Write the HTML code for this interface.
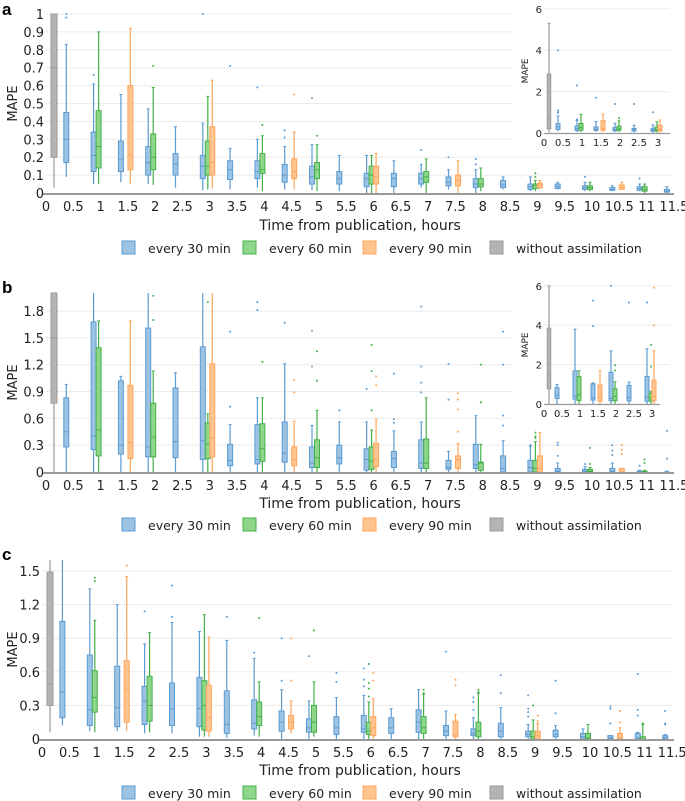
<!DOCTYPE html>
<html><head><meta charset="utf-8"><style>
body{margin:0;background:#fff;}
svg{display:block;font-family:"DejaVu Sans","Liberation Sans",sans-serif;}
</style></head><body>
<svg id="fig" width="685" height="801" viewBox="0 0 685 801" xmlns="http://www.w3.org/2000/svg"></svg>
<script>
// [t, lo, q1, med, q3, hi, outliers]
const aGray=[[0,0.03,0.2,0.7,2.85,5.3,[]]];
const a30=[[0.5,.09,.17,.30,.45,.83,[.98,1.1,1.0,4.0]],[1,.05,.12,.21,.34,.61,[.66,2.3]],[1.5,.06,.12,.19,.29,.55,[1.7]],[2,.05,.10,.17,.26,.47,[1.4]],[2.5,.03,.10,.16,.22,.37,[1.4]],[3,.015,.08,.15,.21,.39,[1.0]],[3.5,.02,.075,.13,.18,.25,[.71]],[4,.03,.08,.12,.18,.30,[.59]],[4.5,.02,.06,.10,.16,.26,[.31,.35]],[5,.015,.05,.09,.15,.27,[.53]],[5.5,.01,.05,.08,.12,.21,[]],[6,0,.035,.08,.11,.21,[]],[6.5,0,.035,.08,.11,.18,[]],[7,.03,.05,.08,.11,.16,[.24]],[7.5,.02,.04,.06,.09,.13,[.2]],[8,0,.03,.05,.08,.13,[.16,.19]],[8.5,.02,.03,.045,.07,.09,[]],[9,.01,.02,.035,.05,.09,[]],[9.5,.02,.025,.035,.05,.06,[]],[10,.01,.02,.03,.04,.06,[.09]],[10.5,.01,.015,.02,.03,.04,[]],[11,.01,.015,.025,.035,.05,[.08]],[11.5,0,.005,.01,.02,.035,[]]];
const a60=[[1,.05,.14,.26,.46,.90,[]],[2,.045,.13,.20,.33,.59,[.71]],[3,.02,.10,.15,.29,.54,[]],[4,.01,.11,.13,.22,.32,[.38]],[5,.01,.08,.13,.17,.27,[.32]],[6,0,.05,.10,.15,.21,[]],[7,0,.06,.09,.12,.19,[]],[8,.01,.035,.05,.08,.14,[]],[9,.01,.025,.04,.05,.07,[.09,.11]],[10,.01,.02,.03,.04,.06,[]],[11,0,.01,.02,.035,.05,[]]];
const a90=[[1.5,.05,.13,.21,.60,.92,[]],[3,.025,.10,.17,.37,.63,[]],[4.5,.02,.08,.12,.19,.34,[.55]],[6,0,.05,.09,.15,.22,[]],[7.5,0,.04,.07,.10,.18,[]],[9,.02,.03,.045,.055,.07,[]],[10.5,.02,.02,.03,.045,.06,[]]];

const bGray=[[0,0,0.77,1.5,3.85,6.0,[]]];
const b30=[[0.5,0,.28,.45,.83,.98,[]],[1,0,.25,.40,1.68,3.8,[]],[1.5,0,.2,.3,1.02,1.07,[3.95,5.25]],[2,0,.17,.28,1.61,2.7,[6.0]],[2.5,0,.16,.34,.94,1.11,[5.15]],[3,0,.14,.35,1.4,2.8,[5.15]],[3.5,0,.07,.13,.31,.53,[.73,1.57]],[4,0,.09,.14,.53,.83,[1.81,1.9]],[4.5,0,.11,.21,.56,1.21,[1.67]],[5,0,.05,.1,.28,.52,[1.18,1.58]],[5.5,0,.09,.16,.3,.56,[.69]],[6,0,.02,.14,.26,.56,[.93]],[6.5,0,.05,.15,.23,.46,[.55,.59,1.1]],[7,0,.04,.1,.36,.56,[.89,1.0,1.18,1.85]],[7.5,0,.03,.05,.13,.23,[.81,1.21]],[8,0,.04,.08,.31,.63,[]],[8.5,0,0,.04,.18,.35,[.52,.63,1.2,1.57]],[9,0,0,.05,.13,.29,[.3]],[9.5,0,0,.01,.04,.1,[.18,.3,.33]],[10,0,0,.01,.03,.06,[.09]],[10.5,0,0,.01,.04,.1,[.19,.24,.3]],[11,0,0,0,.01,.02,[.07]],[11.5,0,0,0,0,.01,[.15,.46]]];
const b60=[[1,0,.18,.47,1.39,1.69,[]],[2,0,.17,.39,.77,1.13,[1.7,1.97]],[3,0,.15,.31,.55,.65,[1.9,3.0]],[4,0,.12,.26,.54,.83,[1.23]],[5,0,.05,.16,.36,.69,[1.02,1.35]],[6,0,.03,.12,.28,.47,[.69,1.13,1.42]],[7,0,.04,.1,.37,.83,[]],[8,0,.02,.1,.11,.31,[.78,1.2]],[9,0,0,.04,.13,.34,[.38,.4,.44]],[10,0,0,.01,.03,.05,[.09,.27]],[11,0,0,0,.01,.02,[.1,.14]]];
const b90=[[1.5,0,.15,.33,.97,1.69,[]],[3,0,.17,.38,1.21,2.7,[4.0,5.9]],[4.5,0,.07,.14,.28,.57,[.89,1.03]],[6,0,.06,.14,.32,.59,[.97,1.07]],[7.5,0,.04,.14,.18,.32,[.45,.7,.81,.88]],[9,0,0,.04,.18,.44,[.53,.55]],[10.5,0,0,0,.04,.04,[.2,.25,.3]]];

const cGray=[[0,.06,.3,.49,1.49,1.7,[]]];
const c30=[[0.5,.12,.19,.42,1.05,1.7,[]],[1,.07,.12,.26,.75,1.34,[]],[1.5,.07,.11,.28,.65,1.2,[]],[2,.05,.13,.34,.47,.85,[1.14]],[2.5,.05,.12,.27,.5,1.04,[1.09,1.37]],[3,.02,.11,.27,.55,.96,[]],[3.5,.01,.05,.13,.43,.88,[1.09]],[4,.03,.09,.14,.35,.72,[.77]],[4.5,0,.07,.15,.25,.44,[.52,.9]],[5,0,.06,.1,.18,.34,[.74]],[5.5,0,.04,.1,.2,.37,[.51,.59]],[6,0,.06,.09,.21,.39,[.47,.53,.63]],[6.5,0,.05,.1,.19,.27,[]],[7,0,.06,.15,.26,.44,[]],[7.5,0,.03,.07,.12,.25,[.78]],[8,0,.03,.05,.09,.19,[.26,.33,.37]],[8.5,0,.02,.07,.14,.28,[.41,.57]],[9,0,.02,.04,.07,.13,[.2,.24,.27,.39]],[9.5,0,.02,.04,.08,.12,[.23,.52]],[10,0,0,.02,.05,.09,[]],[10.5,0,0,.01,.03,.03,[.14,.27,.29]],[11,0,0,.01,.05,.06,[.21,.26,.58]],[11.5,0,0,.01,.03,.04,[.13,.14,.25]]];
const c60=[[1,.06,.24,.37,.61,1.06,[1.41,1.44]],[2,.06,.16,.3,.56,.95,[]],[3,.02,.08,.3,.52,1.11,[]],[4,.02,.12,.2,.33,.51,[1.08]],[5,.02,.06,.15,.3,.51,[.97]],[6,0,.04,.07,.15,.33,[.38,.45,.5,.67]],[7,0,.05,.1,.2,.4,[.41,.44]],[8,0,.02,.07,.15,.41,[.42,.44]],[9,0,0,.02,.07,.17,[.3]],[10,0,0,.01,.05,.13,[]],[11,0,0,0,.02,.13,[.14]]];
const c90=[[1.5,.07,.15,.44,.7,1.45,[1.55]],[3,.02,.07,.19,.48,.91,[]],[4.5,.05,.09,.15,.21,.34,[.52,.9]],[6,0,.03,.1,.2,.36,[.52,.59]],[7.5,0,.02,.03,.16,.22,[.48,.53]],[9,0,0,.03,.07,.14,[.16,.21]],[10.5,0,0,.01,.05,.1,[.15,.25]]];

const xTicks=["0","0.5","1","1.5","2","2.5","3","3.5","4","4.5","5","5.5","6","6.5","7","7.5","8","8.5","9","9.5","10","10.5","11","11.5"];
const yTicksA=["0","0.1","0.2","0.3","0.4","0.5","0.6","0.7","0.8","0.9","1"];
const yTicksB=["0","0.3","0.6","0.9","1.2","1.5","1.8"];
const yTicksC=["0","0.3","0.6","0.9","1.2","1.5"];
const insetXTicks=["0","0.5","1","1.5","2","2.5","3"];
const insetYTicks=["0","2","4","6"];
const legendLabels=["every 30 min","every 60 min","every 90 min","without assimilation"];

const NS="http://www.w3.org/2000/svg";
const svg=document.getElementById('fig');
const COL={b:{f:"#9cc3e4",s:"#5b9bd1"},g:{f:"#8fd68a",s:"#44b049"},o:{f:"#ffc591",s:"#ffa65a"},k:{f:"#b4b4b4",s:"#9a9a9a"}};
function mk(tag,attrs,parent){const e=document.createElementNS(NS,tag);for(const k in attrs)e.setAttribute(k,attrs[k]);(parent||svg).appendChild(e);return e;}
function txt(x,y,s,attrs,parent){const e=mk('text',Object.assign({x:x,y:y},attrs),parent);e.textContent=s;return e;}

function drawBoxes(g,data,col,xf,yf,off,w,ymax,series){
  data.forEach(d=>{
    const cx=xf(d[0])+off;const c=COL[col];
    const grp=mk('g',{},g);
    
    
    const cl=v=>yf(Math.min(v,ymax));
    mk('line',{x1:cx,x2:cx,y1:cl(d[1]),y2:cl(d[5]),stroke:c.s,'stroke-width':1.2},grp);
    if(d[5]<=ymax){mk('line',{x1:cx-1.5,x2:cx+1.5,y1:yf(d[5]),y2:yf(d[5]),stroke:c.s,'stroke-width':1},grp);}
    mk('rect',{x:cx-w/2,y:cl(d[4]),width:w,height:Math.max(0.8,cl(d[2])-cl(d[4])),fill:c.f,stroke:c.s,'stroke-width':1},grp);
    if(d[3]<=ymax)mk('line',{x1:cx-w/2,x2:cx+w/2,y1:yf(d[3]),y2:yf(d[3]),stroke:c.s,'stroke-width':1},grp);
    d[6].forEach(o=>{if(o<=ymax)mk('circle',{cx:cx,cy:yf(o),r:1,fill:c.s},grp);});
  });
}

function panel(P){
  const g=mk('g',{});
  
  
  const xf=h=>P.x0+P.dx*h; const yf=v=>P.y0-P.dy*v;
  txt(2,P.letterY,P.letter,{'font-size':17,'font-weight':'bold','font-family':'Liberation Sans, sans-serif'},g);
  P.yTicks.forEach(t=>{const v=parseFloat(t);const y=yf(v);
    if(v>0)mk('line',{x1:P.x0,x2:672,y1:y,y2:y,stroke:'#ebebeb','stroke-width':1},g);
    txt(P.x0-2,y+5,t,{'font-size':13,'text-anchor':'end',fill:'#222'},g);});
  txt(0,0,'MAPE',{'font-size':13,transform:'translate(17,'+(P.y0+P.ytop)/2+') rotate(-90)','text-anchor':'middle',fill:'#222'},g);
  xTicks.forEach(t=>{const x=xf(parseFloat(t));txt(x,P.y0+18,t,{'font-size':13,'text-anchor':'middle',fill:'#222'},g);});
  const ymax=(P.y0-P.ytop)/P.dy;
  drawBoxes(g,P.gray,'k',xf,yf,8,6,ymax,'no-assim');
  drawBoxes(g,P.s30,'b',xf,yf,-7,5,ymax,'30min');
  drawBoxes(g,P.s60,'g',xf,yf,-2,5,ymax,'60min');
  drawBoxes(g,P.s90,'o',xf,yf,2.5,5,ymax,'90min');
  mk('line',{x1:P.x0-3,x2:674,y1:P.y0+1,y2:P.y0+1,stroke:'#999','stroke-width':2},g);
  const xt=txt(360,P.titleY,'Time from publication, hours',{'font-size':14,'text-anchor':'middle',fill:'#222'},g);
  
  const lx=[122,243,363,490];const lc=['b','g','o','k'];
  legendLabels.forEach((l,i)=>{
    const lg=mk('g',{},g);
    
    
    mk('rect',{x:lx[i],y:P.legY-7,width:13,height:13,fill:COL[lc[i]].f,stroke:COL[lc[i]].s,'stroke-width':1},lg);
    txt(lx[i]+26,P.legY+5,l,{'font-size':12.5,fill:'#222'},lg);
  });
  if(P.inset){
    const I=P.inset;const ig=mk('g',{},g);
    
    
    mk('rect',{x:512,y:I.y0-I.dy*6-10,width:165,height:I.dy*6+32,fill:'#fff'},ig);
    const ixf=h=>I.x0+I.dx*h, iyf=v=>I.y0-I.dy*v;
    insetYTicks.forEach(t=>{const v=+t;const y=iyf(v);
      if(v>0)mk('line',{x1:I.x0,x2:670,y1:y,y2:y,stroke:'#ececec','stroke-width':1},ig);
      txt(I.x0-2,y+4,t,{'font-size':10,'text-anchor':'end',fill:'#222'},ig);});
    insetXTicks.forEach(t=>txt(ixf(+t),I.y0+13,t,{'font-size':10,'text-anchor':'middle',fill:'#222'},ig));
    txt(0,0,'MAPE',{'font-size':9,transform:'translate('+(I.x0-16)+','+(I.y0-I.dy*3)+') rotate(-90)','text-anchor':'middle',fill:'#222'},ig);
    const f=d=>d.filter(r=>r[0]<=3);
    drawBoxes(ig,P.gray,'k',ixf,iyf,5,3.5,6.1,'inset-no-assim');
    drawBoxes(ig,f(P.s30),'b',ixf,iyf,-5,4,6.1,'inset-30min');
    drawBoxes(ig,f(P.s60),'g',ixf,iyf,-1,4,6.1,'inset-60min');
    drawBoxes(ig,f(P.s90),'o',ixf,iyf,2,4,6.1,'inset-90min');
    mk('line',{x1:I.x0,x2:I.x1,y1:I.y0+.5,y2:I.y0+.5,stroke:'#999','stroke-width':1.2},ig);
  }
}
panel({letter:'a',letterY:15,x0:46,dx:54.6,y0:193,dy:179,ytop:14,yTicks:yTicksA,gray:aGray,s30:a30,s60:a60,s90:a90,titleY:230,legY:248,
  inset:{x0:544,x1:670,dx:38,y0:133,dy:20.7}});
panel({letter:'b',letterY:293,x0:46,dx:54.6,y0:472,dy:89.4,ytop:293,yTicks:yTicksB,gray:bGray,s30:b30,s60:b60,s90:b90,titleY:508,legY:525,
  inset:{x0:544,x1:660,dx:36,y0:404,dy:19.7}});
panel({letter:'c',letterY:560,x0:42,dx:54.8,y0:739,dy:112,ytop:560,yTicks:yTicksC,gray:cGray,s30:c30,s60:c60,s90:c90,titleY:775,legY:793});
</script>
</body></html>
